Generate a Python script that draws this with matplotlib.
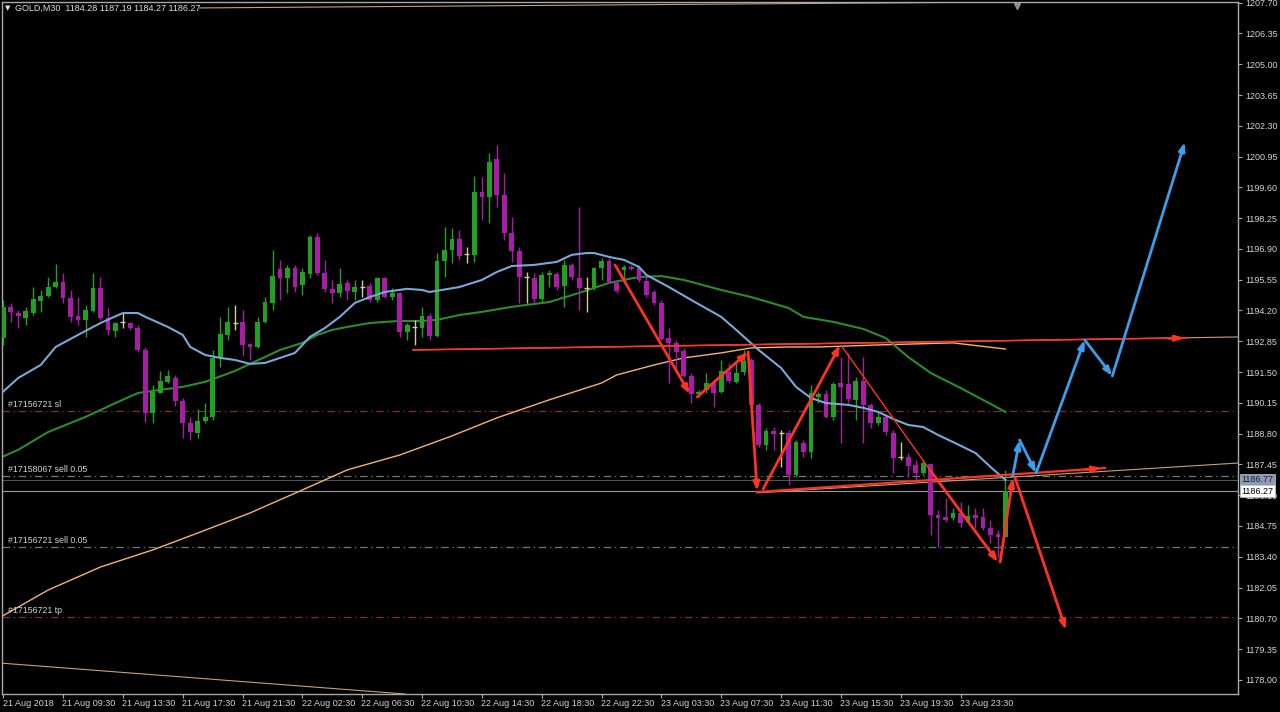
import matplotlib
matplotlib.use("Agg")
import matplotlib.pyplot as plt
from matplotlib.transforms import blended_transform_factory

plt.rcParams['font.family'] = ['Liberation Sans', 'DejaVu Sans']

# ---------------- data ----------------
opens = [1193.00, 1194.36, 1194.09, 1193.87, 1194.09, 1194.62, 1194.84, 1195.23, 1195.45, 1194.75,
         1193.96, 1193.79, 1194.18, 1195.19, 1193.87, 1193.30, 1193.70, 1193.65, 1193.43, 1192.47,
         1189.71, 1190.58, 1191.07, 1191.24, 1190.23, 1189.27, 1188.83, 1189.36, 1189.53, 1192.12,
         1193.13, 1193.65, 1193.70, 1192.73, 1192.60, 1193.70, 1194.53, 1196.02, 1195.63, 1196.07,
         1195.32, 1195.80, 1197.43, 1195.85, 1195.15, 1194.97, 1195.41, 1195.01, 1195.23, 1195.28,
         1194.66, 1195.63, 1194.79, 1194.97, 1193.26, 1193.48, 1193.43, 1193.96, 1193.08, 1196.37,
         1196.86, 1197.34, 1196.68, 1196.64, 1199.40, 1199.18, 1200.85, 1199.27, 1197.60, 1196.81,
         1195.67, 1195.63, 1194.71, 1195.76, 1195.80, 1195.28, 1196.20, 1195.63, 1195.19, 1195.19,
         1196.07, 1196.37, 1195.41, 1195.98, 1196.11, 1196.07, 1195.50, 1195.01, 1194.53, 1192.99,
         1192.78, 1192.43, 1191.33, 1190.54, 1190.72, 1191.02, 1190.63, 1191.50, 1191.07, 1191.50,
         1192.03, 1190.06, 1188.30, 1188.92, 1188.83, 1188.83, 1186.99, 1188.39, 1188.00, 1190.41,
         1190.54, 1189.53, 1191.02, 1190.98, 1190.28, 1191.11, 1190.06, 1189.27, 1189.53, 1188.83,
         1187.78, 1187.78, 1187.43, 1187.07, 1187.47, 1185.23, 1185.15, 1185.10, 1185.32, 1184.93,
         1185.23, 1185.15, 1184.66, 1184.40, 1184.28]
highs = [1194.66, 1194.53, 1194.22, 1194.36, 1195.23, 1195.10, 1195.67, 1196.24, 1195.85, 1195.10,
         1194.79, 1194.44, 1195.85, 1195.67, 1194.31, 1193.70, 1194.09, 1193.70, 1193.57, 1192.60,
         1190.93, 1191.55, 1191.60, 1191.37, 1190.36, 1189.53, 1189.88, 1190.14, 1192.47, 1193.92,
         1194.36, 1194.44, 1194.22, 1192.78, 1193.92, 1194.79, 1196.86, 1196.42, 1196.20, 1196.20,
         1196.07, 1197.51, 1197.60, 1196.42, 1195.54, 1196.07, 1195.54, 1195.54, 1195.54, 1195.41,
         1195.67, 1195.67, 1195.19, 1195.01, 1193.65, 1193.79, 1194.36, 1194.09, 1196.72, 1197.86,
         1197.82, 1197.73, 1196.99, 1200.10, 1200.06, 1201.11, 1201.46, 1200.23, 1198.30, 1196.99,
         1195.89, 1195.85, 1195.89, 1195.98, 1195.89, 1196.42, 1196.29, 1198.74, 1195.67, 1196.11,
         1196.50, 1196.50, 1195.54, 1196.20, 1196.20, 1196.20, 1195.67, 1195.10, 1194.66, 1193.43,
         1192.91, 1192.56, 1191.46, 1190.72, 1191.46, 1191.15, 1192.03, 1191.90, 1191.90, 1192.47,
         1192.12, 1190.14, 1189.05, 1189.09, 1188.96, 1188.96, 1188.52, 1188.52, 1190.93, 1190.63,
         1190.72, 1191.07, 1192.16, 1192.34, 1191.28, 1192.16, 1190.14, 1189.75, 1189.62, 1188.96,
         1188.43, 1187.95, 1187.65, 1187.65, 1187.51, 1185.45, 1185.98, 1185.54, 1185.80, 1185.67,
         1185.54, 1185.54, 1185.01, 1184.58, 1187.19]
lows = [1192.69, 1193.70, 1193.43, 1193.57, 1194.00, 1194.14, 1194.79, 1195.19, 1194.53, 1193.70,
        1193.57, 1193.04, 1194.14, 1193.79, 1193.13, 1193.04, 1193.43, 1193.35, 1192.38, 1189.31,
        1189.27, 1190.58, 1191.02, 1190.01, 1188.61, 1188.52, 1188.61, 1189.27, 1189.40, 1191.72,
        1192.91, 1193.35, 1192.25, 1192.03, 1192.56, 1193.65, 1194.22, 1194.66, 1194.97, 1195.01,
        1194.88, 1195.63, 1195.76, 1195.01, 1194.53, 1194.79, 1194.66, 1194.66, 1194.79, 1194.57,
        1194.57, 1194.75, 1194.66, 1193.04, 1192.91, 1192.69, 1193.04, 1192.91, 1193.04, 1195.67,
        1196.29, 1196.42, 1196.29, 1196.33, 1198.17, 1198.04, 1198.74, 1197.29, 1196.33, 1194.53,
        1194.53, 1194.53, 1194.53, 1195.23, 1195.10, 1194.36, 1195.54, 1194.22, 1194.14, 1195.10,
        1195.54, 1195.41, 1194.97, 1195.41, 1195.98, 1195.45, 1194.79, 1194.44, 1192.91, 1191.02,
        1191.46, 1191.28, 1190.14, 1190.41, 1190.58, 1189.97, 1190.58, 1191.02, 1191.02, 1191.37,
        1189.97, 1188.21, 1188.09, 1188.09, 1187.34, 1186.55, 1186.90, 1187.78, 1187.73, 1190.14,
        1189.49, 1189.40, 1188.39, 1190.14, 1189.40, 1188.39, 1189.05, 1189.18, 1188.74, 1187.07,
        1187.65, 1186.90, 1186.77, 1186.99, 1184.36, 1183.83, 1184.93, 1185.01, 1184.71, 1184.88,
        1184.66, 1184.58, 1184.00, 1183.39, 1184.27]
closes = [1194.36, 1194.14, 1193.96, 1194.18, 1194.71, 1194.84, 1195.23, 1195.45, 1194.75, 1193.92,
          1193.79, 1194.22, 1195.19, 1193.87, 1193.35, 1193.65, 1193.70, 1193.43, 1192.47, 1189.71,
          1190.63, 1191.11, 1191.33, 1190.23, 1189.27, 1188.87, 1189.36, 1189.53, 1192.12, 1193.17,
          1193.70, 1193.65, 1192.69, 1192.60, 1193.70, 1194.57, 1195.71, 1195.63, 1196.07, 1195.23,
          1195.89, 1197.43, 1195.85, 1195.15, 1194.97, 1195.36, 1195.06, 1195.23, 1195.23, 1194.66,
          1195.63, 1194.79, 1194.97, 1193.26, 1193.57, 1193.48, 1193.96, 1193.08, 1196.37, 1196.86,
          1197.34, 1196.59, 1196.68, 1199.40, 1199.18, 1200.71, 1199.27, 1197.60, 1196.81, 1195.67,
          1195.67, 1194.71, 1195.76, 1195.85, 1195.23, 1196.20, 1195.67, 1195.19, 1195.19, 1196.07,
          1196.37, 1195.45, 1195.06, 1196.11, 1196.02, 1195.54, 1194.88, 1194.53, 1192.95, 1192.78,
          1192.38, 1191.33, 1190.54, 1190.63, 1191.02, 1190.58, 1191.55, 1191.11, 1191.46, 1191.99,
          1190.06, 1188.30, 1188.92, 1188.79, 1188.83, 1186.99, 1188.43, 1188.00, 1190.58, 1190.54,
          1189.53, 1190.98, 1190.85, 1190.32, 1191.11, 1190.06, 1189.27, 1189.53, 1188.87, 1187.73,
          1187.78, 1187.38, 1187.07, 1187.51, 1185.23, 1185.10, 1185.01, 1185.32, 1184.88, 1185.19,
          1185.10, 1184.66, 1184.36, 1184.28, 1186.27]

time_labels = ["21 Aug 2018", "21 Aug 09:30", "21 Aug 13:30", "21 Aug 17:30", "21 Aug 21:30",
               "22 Aug 02:30", "22 Aug 06:30", "22 Aug 10:30", "22 Aug 14:30", "22 Aug 18:30",
               "22 Aug 22:30", "23 Aug 03:30", "23 Aug 07:30", "23 Aug 11:30", "23 Aug 15:30",
               "23 Aug 19:30", "23 Aug 23:30"]
label_step = 8

price_ticks = [1207.70, 1206.35, 1205.00, 1203.65, 1202.30, 1200.95, 1199.60, 1198.25, 1196.90,
               1195.55, 1194.20, 1192.85, 1191.50, 1190.15, 1188.80, 1187.45, 1186.10, 1184.75,
               1183.40, 1182.05, 1180.70, 1179.35, 1178.00]

# moving averages (bar index, value)
ma_fast_bars = [0, 2, 5, 7, 10, 13, 16, 18, 19, 22, 24, 25, 27, 29, 31, 33, 35, 39, 41, 43, 45, 47,
                49, 51, 54, 56, 57, 61, 64, 66, 68, 71, 74, 76, 78, 79, 81, 83, 85, 86, 89, 92, 96,
                98, 101, 104, 106, 108, 110, 113, 115, 117, 119, 121, 123, 125, 127, 130, 132, 134]
ma_fast_vals = [1190.65, 1191.24, 1191.81, 1192.60, 1193.13, 1193.65, 1194.09, 1194.09, 1193.92,
                1193.48, 1193.13, 1192.60, 1192.25, 1192.12, 1192.03, 1191.86, 1191.90, 1192.34,
                1193.04, 1193.43, 1193.92, 1194.53, 1194.79, 1195.01, 1195.15, 1195.10, 1195.01,
                1195.23, 1195.54, 1195.89, 1196.15, 1196.20, 1196.33, 1196.64, 1196.72, 1196.72,
                1196.55, 1196.42, 1196.11, 1195.76, 1195.23, 1194.66, 1193.92, 1193.35, 1192.47,
                1191.68, 1190.85, 1190.36, 1190.14, 1190.06, 1189.93, 1189.75, 1189.44, 1189.18,
                1189.09, 1188.74, 1188.43, 1187.95, 1187.34, 1186.77]
ma_mid_bars = [0, 2, 6, 11, 15, 18, 21, 24, 27, 31, 33, 35, 37, 40, 42, 44, 46, 49, 51, 53, 56, 58,
               61, 64, 68, 73, 77, 79, 81, 85, 88, 91, 96, 100, 105, 107, 111, 115, 118, 121, 124,
               128, 131, 134]
ma_mid_vals = [1187.80, 1188.09, 1188.87, 1189.53, 1190.14, 1190.58, 1190.72, 1190.85, 1191.07,
               1191.55, 1191.86, 1192.16, 1192.47, 1192.78, 1193.13, 1193.35, 1193.48, 1193.65,
               1193.70, 1193.74, 1193.74, 1193.79, 1194.00, 1194.14, 1194.36, 1194.57, 1194.97,
               1195.19, 1195.41, 1195.67, 1195.71, 1195.54, 1195.10, 1194.79, 1194.31, 1193.92,
               1193.70, 1193.39, 1192.99, 1192.16, 1191.46, 1190.80, 1190.28, 1189.75]
ma_slow_bars = [0, 6, 13, 20, 26, 33, 40, 46, 53, 60, 66, 73, 80, 82, 87, 91, 96, 100, 105, 109,
                117, 127, 134]
ma_slow_vals = [1180.82, 1181.94, 1182.95, 1183.70, 1184.44, 1185.32, 1186.33, 1187.21, 1187.86,
                1188.70, 1189.49, 1190.28, 1191.02, 1191.37, 1191.81, 1192.12, 1192.34, 1192.56,
                1192.60, 1192.60, 1192.69, 1192.78, 1192.51]

# order lines
sl_price = 1189.79
sell2_price = 1186.96
ask_price = 1186.77
bid_price = 1186.27
sell1_price = 1183.83
tp_price = 1180.76

# hand-drawn analysis objects (bar, price)
upper_trend = [(54.8, 1192.47), (158.4, 1193.00)]
upper_trend_ext = [(54.8, 1192.47), (165.1, 1193.04)]
lower_trend = [(100.8, 1186.24), (147.3, 1187.29)]
lower_trend_ext = [(100.8, 1186.20), (165.1, 1187.51)]
top_line = [(26.3, 1207.47), (134.6, 1207.73)]
bottom_line = [(-0.5, 1178.74), (53.7, 1177.38)]
red_thick = [((81.8, 1196.20), (91.8, 1190.54)),
             ((92.8, 1190.41), (99.6, 1192.38)),
             ((99.6, 1192.38), (100.8, 1186.28)),
             ((101.6, 1186.37), (111.9, 1192.69)),
             ((123.9, 1187.21), (133.0, 1183.17)),
             ((133.3, 1183.17), (135.0, 1186.86)),
             ((135.3, 1186.86), (142.1, 1180.19))]
red_thin = [((112.2, 1192.60), (123.9, 1187.21))]
blue_path_bars = [135.0, 135.9, 138.1, 144.6, 148.3, 158.0]
blue_path_vals = [1186.99, 1188.52, 1187.07, 1192.91, 1191.33, 1201.59]

# ---------------- style ----------------
BG = "#000000"
BULL = "#22A022"
BEAR = "#A81CA8"
DOJI = "#D8C8A0"
AXIS_TXT = "#D4D4D4"
RED = "#FF3322"
BLUE = "#3C9EEA"

fig = plt.figure(figsize=(12.8, 7.12), dpi=100, facecolor=BG)
ax = fig.add_axes([2 / 1280, 1 - 694 / 712, 1236 / 1280, 692 / 712], facecolor=BG)
ax.set_xlim(-0.17, 165.1)
ax.set_ylim(1177.38, 1207.73)

# order / price lines
ax.axhline(sl_price, color="#8A2A2A", lw=0.9, ls=(0, (6, 3, 1, 3)), zorder=1)
ax.axhline(tp_price, color="#8A2A2A", lw=0.9, ls=(0, (6, 3, 1, 3)), zorder=1)
ax.axhline(sell2_price, color="#6F7F6F", lw=0.9, ls=(0, (6, 3, 1, 3)), zorder=1)
ax.axhline(sell1_price, color="#6F7F6F", lw=0.9, ls=(0, (6, 3, 1, 3)), zorder=1)
ax.axhline(ask_price, color="#505868", lw=0.7, zorder=1)
ax.axhline(bid_price, color="#9A9A9A", lw=0.8, zorder=1)

# moving averages
ax.plot(ma_slow_bars, ma_slow_vals, color="#F2B46E", lw=1.0, zorder=2)
ax.plot(ma_mid_bars, ma_mid_vals, color="#2C8C2C", lw=1.5, zorder=2)

# candles
for i, (o, h, l, c) in enumerate(zip(opens, highs, lows, closes)):
    if c > o:
        col = BULL
    elif c < o:
        col = BEAR
    else:
        col = DOJI
    ax.vlines(i, l, h, color=col, lw=1.0, zorder=3)
    if c == o:
        ax.hlines(o, i - 0.33, i + 0.33, color=col, lw=1.0, zorder=3)
    else:
        ax.bar(i, abs(c - o), bottom=min(o, c), width=0.64, color=col, lw=0, zorder=3)

ax.plot(ma_fast_bars, ma_fast_vals, color="#78A8D8", lw=1.5, zorder=4)

# drawn lines
ax.plot(*zip(*top_line), color="#C8A070", lw=0.8, zorder=2)
ax.plot(*zip(*bottom_line), color="#C8A070", lw=0.8, zorder=2)
ax.plot(*zip(*upper_trend_ext), color="#C8A070", lw=0.8, zorder=2)
ax.plot(*zip(*lower_trend_ext), color="#C8A070", lw=0.8, zorder=2)
ax.plot(*zip(*upper_trend), color=RED, lw=1.2, zorder=5)
ax.annotate("", xy=upper_trend[1], xytext=(upper_trend[1][0] - 3, upper_trend[1][1] - 0.03),
            arrowprops=dict(arrowstyle="-|>,head_length=0.5,head_width=0.15", color=RED, lw=2))
ax.plot(*zip(*lower_trend), color=RED, lw=1.6, zorder=5)
ax.annotate("", xy=lower_trend[1], xytext=(lower_trend[1][0] - 3, lower_trend[1][1] - 0.07),
            arrowprops=dict(arrowstyle="-|>,head_length=0.5,head_width=0.15", color=RED, lw=2))
for (p0, p1) in red_thin:
    ax.plot([p0[0], p1[0]], [p0[1], p1[1]], color=RED, lw=1.0, zorder=5)
for (p0, p1) in red_thick:
    ax.annotate("", xy=p1, xytext=p0,
                arrowprops=dict(arrowstyle="-|>,head_length=0.5,head_width=0.18",
                                color=RED, lw=2.0, shrinkA=0, shrinkB=0), zorder=6)
for k in range(len(blue_path_bars) - 1):
    ax.annotate("", xy=(blue_path_bars[k + 1], blue_path_vals[k + 1]),
                xytext=(blue_path_bars[k], blue_path_vals[k]),
                arrowprops=dict(arrowstyle="-|>,head_length=0.5,head_width=0.18",
                                color=BLUE, lw=2.0, shrinkA=0, shrinkB=0), zorder=6)

# shift marker
ax.plot([135.6], [1207.55], marker="v", color="#909090", ms=5, zorder=7, clip_on=False)

# left labels
tr = blended_transform_factory(ax.transAxes, ax.transData)
for txt, p in [("#17156721 sl", sl_price), ("#17158067 sell 0.05", sell2_price),
               ("#17156721 sell 0.05", sell1_price), ("#17156721 tp", tp_price)]:
    ax.text(0.005, p + 0.08, txt, transform=tr, color=AXIS_TXT, fontsize=6.3,
            va="bottom", ha="left", zorder=8)

# header
fig.text(5 / 1280, 1 - 8 / 712, "\u25BC", color="#E0E0E0", fontsize=5,
         va="center", ha="left", family=["DejaVu Sans"])
fig.text(15 / 1280, 1 - 8 / 712, "GOLD,M30  1184.28 1187.19 1184.27 1186.27",
         color="#E0E0E0", fontsize=6.5, va="center", ha="left")

# axes styling
for s in ax.spines.values():
    s.set_color("#A8A8A8")
    s.set_linewidth(1.0)
ax.yaxis.tick_right()
ax.set_yticks(price_ticks)
ax.set_yticklabels(["%.2f" % v for v in price_ticks])
ax.tick_params(axis="y", colors="#A8A8A8", labelcolor=AXIS_TXT, labelsize=6.5,
               length=3, width=0.8, pad=2, direction="out")
tick_bars = [i * label_step for i in range(len(time_labels))]
ax.set_xticks(tick_bars)
ax.set_xticklabels([""] * len(tick_bars))
ax.tick_params(axis="x", colors="#A8A8A8", length=3, width=0.8, direction="out")
trx = blended_transform_factory(ax.transData, ax.transAxes)
for b, lab in zip(tick_bars, time_labels):
    ax.text(b - 0.1, -0.0075, lab, transform=trx, color=AXIS_TXT, fontsize=6.5,
            ha="left", va="top", clip_on=False)

# price boxes on the right axis
for p, fc, tc in [(ask_price, "#8C9BB4", "#1A2030"), (bid_price, "#FFFFFF", "#000000")]:
    ax.text(1.003, p, "%.2f" % p, transform=tr, color=tc, fontsize=6.5, ha="left", va="center",
            bbox=dict(boxstyle="square,pad=0.15", fc=fc, ec="#C0C0C0", lw=0.5),
            zorder=10, clip_on=False)

fig.savefig("out.png", dpi=100, facecolor=BG)
